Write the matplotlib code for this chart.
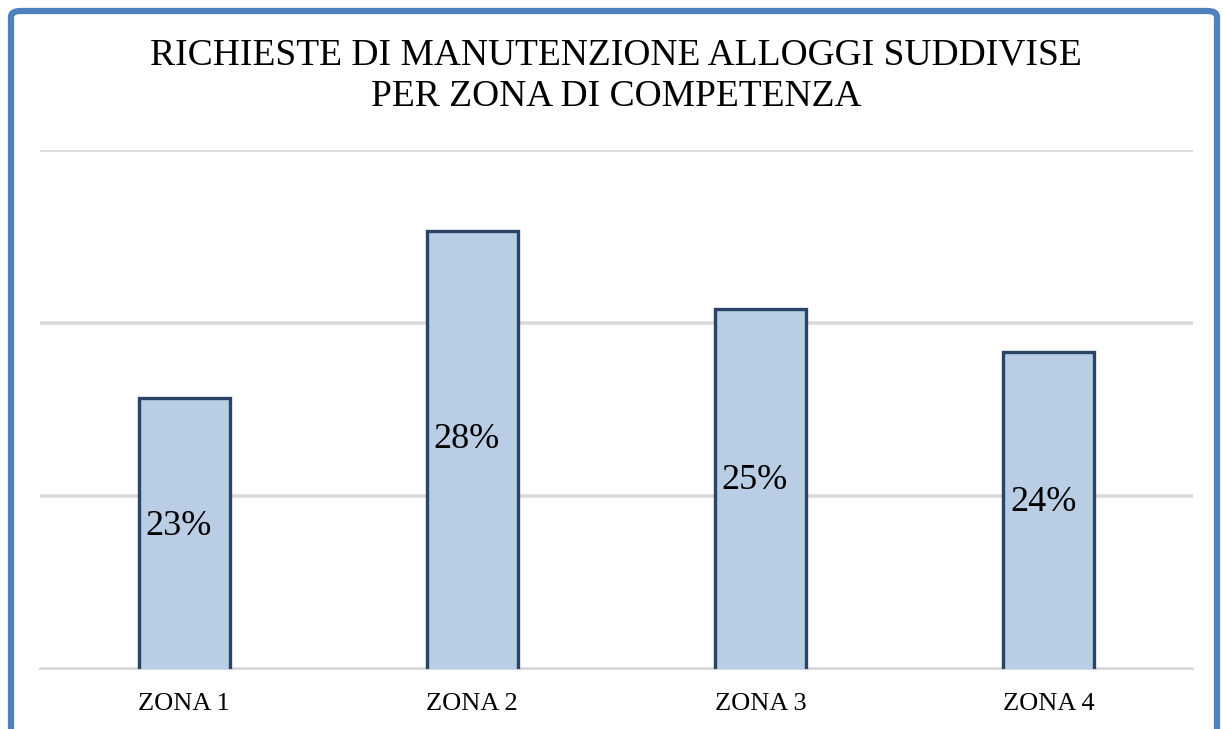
import numpy as np
import matplotlib
matplotlib.use('Agg')
import matplotlib.pyplot as plt
from matplotlib.patches import FancyBboxPatch

# data
zone = ["ZONA 1", "ZONA 2", "ZONA 3", "ZONA 4"]
quota = [22.9, 27.6, 25.4, 24.2]      # percent share of requests
etichette = ["23%", "28%", "25%", "24%"]

titolo = "RICHIESTE DI MANUTENZIONE ALLOGGI SUDDIVISE\nPER ZONA DI COMPETENZA"

plt.rcParams['font.family'] = ['Liberation Serif', 'DejaVu Serif']

fig = plt.figure(figsize=(12.23, 7.29), dpi=100, facecolor='white')

# blue outer frame (bottom edge falls outside the picture)
frame = FancyBboxPatch((11 / 1223, -0.05), 1206 / 1223, 1.05 - 11 / 729,
                       boxstyle="round,pad=0,rounding_size=0.008",
                       transform=fig.transFigure, facecolor='none',
                       edgecolor='#4F81BD', linewidth=4.5, zorder=10)
fig.patches.append(frame)

ax = fig.add_axes([40 / 1223, 1 - 669 / 729, 1153 / 1223, (669 - 150) / 729])
ax.set_facecolor('none')

y_min, y_max = 15.27, 29.88
x = np.arange(len(zone))
ax.bar(x, quota, width=0.316, color='#B9CDE5', edgecolor='#2A4468',
       linewidth=2.4, zorder=3)

ax.set_xlim(-0.5, len(zone) - 0.5)
ax.set_ylim(y_min, y_max)
ax.set_yticks(np.linspace(y_min, y_max, 4))
ax.yaxis.grid(True, color='#D9D9D9', linewidth=2.6, zorder=0)
ax.set_axisbelow(True)
ax.tick_params(axis='y', left=False, labelleft=False)
ax.tick_params(axis='x', bottom=False, labelsize=19, pad=14)
ax.set_xticks(x)
ax.set_xticklabels(zone)

for s in ['top', 'left', 'right']:
    ax.spines[s].set_visible(False)
ax.spines['bottom'].set_color('#D9D9D9')
ax.spines['bottom'].set_linewidth(1.5)

# value labels inside bars
for xi, v, lab in zip(x, quota, etichette):
    ax.text(xi - 0.02, y_min + 0.525 * (v - y_min), lab, ha='center',
            va='center', fontsize=26, color='black', zorder=4)

fig.text(616 / 1223, 1 - 76 / 729, titolo, ha='center', va='center',
         fontsize=27, linespacing=1.3)

fig.savefig('out.png', dpi=100, facecolor='white')
